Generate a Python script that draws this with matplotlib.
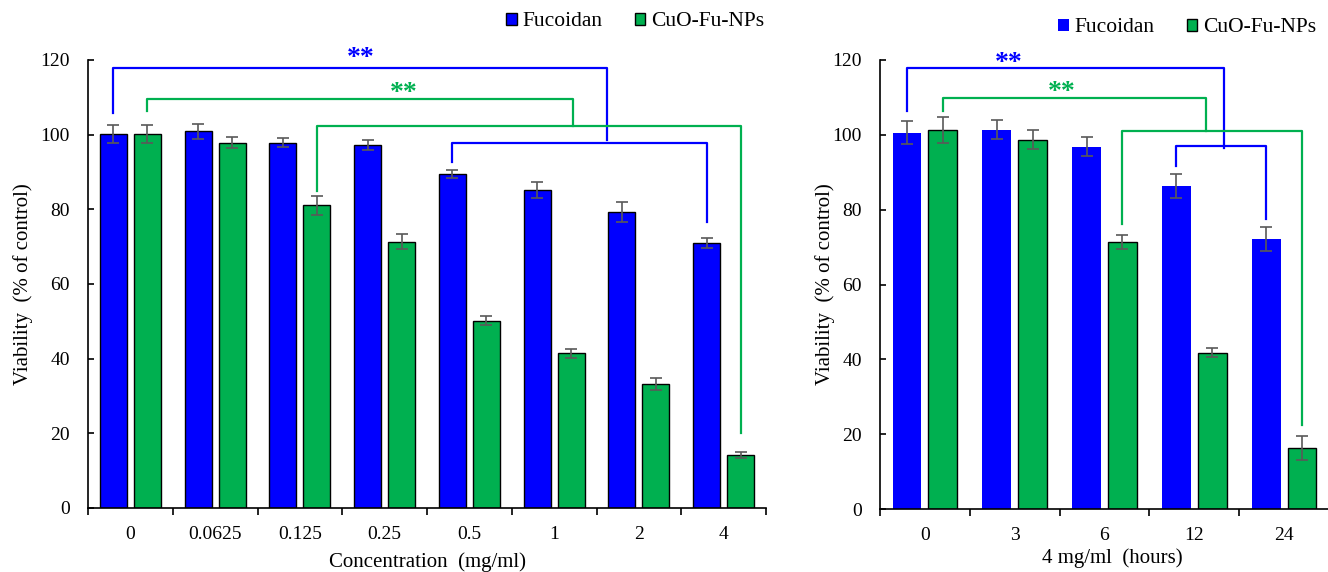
import numpy as np
import matplotlib
matplotlib.use("Agg")
import matplotlib.pyplot as plt
from matplotlib.patches import Patch

plt.rcParams['font.family'] = ['Liberation Serif', 'DejaVu Serif']

# data
conc_labels = ['0', '0.0625', '0.125', '0.25', '0.5', '1', '2', '4']
fuco_conc = [100.2, 100.9, 97.9, 97.2, 89.4, 85.2, 79.3, 70.9]
fuco_conc_err = [2.5, 2.0, 1.1, 1.4, 1.1, 2.2, 2.6, 1.3]
cuo_conc = [100.2, 97.9, 81.1, 71.3, 50.1, 41.4, 33.2, 14.2]
cuo_conc_err = [2.5, 1.5, 2.6, 2.0, 1.2, 1.3, 1.5, 0.7]

time_labels = ['0', '3', '6', '12', '24']
fuco_time = [100.6, 101.4, 96.8, 86.3, 72.2]
fuco_time_err = [3.0, 2.5, 2.5, 3.3, 3.3]
cuo_time = [101.2, 98.7, 71.3, 41.7, 16.4]
cuo_time_err = [3.5, 2.5, 1.8, 1.2, 3.2]

BLUE = '#0000FF'
GREEN = '#00B050'
ERR = '#595959'
OFF = 0.2
W = 0.32

# significance brackets: (colour, left end, right end, top, left drop, right drop)
# ends are (group, series) of a bar, or a plain x value for the connector
conc_brackets = [
    (BLUE, (0, 0), 5.62, 117.8, 105.7, 98.7),
    (GREEN, (0, 1), 5.22, 109.5, 106.3, 102.4),
    (GREEN, (2, 1), (7, 1), 102.4, 85.0, 20.0),
    (BLUE, (4, 0), (7, 0), 97.7, 92.8, 76.7),
]
time_brackets = [
    (BLUE, (0, 0), 3.33, 117.8, 106.4, 96.6),
    (GREEN, (0, 1), 3.13, 109.8, 106.4, 101.0),
    (GREEN, (2, 1), (4, 1), 100.9, 76.3, 22.5),
    (BLUE, (3, 0), (4, 0), 96.9, 91.7, 77.4),
]
conc_stars = [(BLUE, 2.72, 120.3), (GREEN, 3.22, 111.1)]
time_stars = [(BLUE, 0.93, 119.1), (GREEN, 1.52, 111.4)]


def bar_x(e):
    if isinstance(e, tuple):
        return e[0] + (-OFF if e[1] == 0 else OFF)
    return e


def draw_panel(ax, labels, fuco, fuco_err, cuo, cuo_err, brackets, stars,
               xlabel, blue_edge):
    n = len(labels)
    x = np.arange(n)
    ax.bar(x - OFF, fuco, W, color=BLUE,
           edgecolor='black' if blue_edge else BLUE,
           linewidth=1.0 if blue_edge else 0, zorder=2)
    ax.bar(x + OFF, cuo, W, color=GREEN, edgecolor='black', linewidth=1.0,
           zorder=2)
    ax.errorbar(x - OFF, fuco, yerr=fuco_err, fmt='none', ecolor=ERR,
                elinewidth=1.2, capsize=4, capthick=1.2, zorder=3)
    ax.errorbar(x + OFF, cuo, yerr=cuo_err, fmt='none', ecolor=ERR,
                elinewidth=1.2, capsize=4, capthick=1.2, zorder=3)

    for col, left, right, top, yl, yr in brackets:
        xl, xr = bar_x(left), bar_x(right)
        ax.plot([xl, xl, xr, xr], [yl, top, top, yr], color=col, lw=1.6,
                clip_on=False, zorder=4)
    for col, sx, sy in stars:
        ax.text(sx, sy, '**', color=col, ha='center', va='center',
                fontsize=20, fontweight='bold', clip_on=False)

    ax.set_xlim(-0.5, n - 0.5)
    ax.set_ylim(0, 120)
    ax.set_yticks(range(0, 121, 20))
    ax.set_xticks(np.arange(n + 1) - 0.5)
    ax.set_xticklabels([])
    ax.set_xticks(x, minor=True)
    ax.set_xticklabels(labels, minor=True)
    ax.tick_params(axis='x', which='major', direction='out', length=5,
                   width=1.2)
    ax.tick_params(axis='x', which='minor', length=0, pad=13, labelsize=14)
    ax.tick_params(axis='y', direction='in', length=4, width=1.2, pad=13,
                   labelsize=14)
    for s in ['top', 'right']:
        ax.spines[s].set_visible(False)
    for s in ['left', 'bottom']:
        ax.spines[s].set_linewidth(1.2)
    ax.set_ylabel('Viability  (% of control)', fontsize=15)
    ax.set_xlabel(xlabel, fontsize=15)
    ax.yaxis.label.set_va('center')
    ax.xaxis.label.set_va('center')


fig = plt.figure(figsize=(13.28, 5.72), dpi=100)
ax1 = fig.add_axes([88 / 1328, 64 / 572, 678 / 1328, 448 / 572])
ax2 = fig.add_axes([880 / 1328, 63 / 572, 449 / 1328, 449 / 572])

draw_panel(ax1, conc_labels, fuco_conc, fuco_conc_err, cuo_conc,
           cuo_conc_err, conc_brackets, conc_stars,
           'Concentration  (mg/ml)', True)
draw_panel(ax2, time_labels, fuco_time, fuco_time_err, cuo_time,
           cuo_time_err, time_brackets, time_stars,
           '4 mg/ml  (hours)', False)

ax1.yaxis.set_label_coords(-0.096, 0.5)
ax1.xaxis.set_label_coords(0.50, -0.12)
ax2.yaxis.set_label_coords(-0.122, 0.5)
ax2.xaxis.set_label_coords(0.517, -0.11)

h1 = [Patch(facecolor=BLUE, edgecolor='black', linewidth=1.0),
      Patch(facecolor=GREEN, edgecolor='black', linewidth=1.0)]
h2 = [Patch(facecolor=BLUE, edgecolor=BLUE, linewidth=0),
      Patch(facecolor=GREEN, edgecolor='black', linewidth=1.0)]
for handles, cx, cy in [(h1, 635, 22), (h2, 1187, 28)]:
    fig.legend(handles, ['Fucoidan', 'CuO-Fu-NPs'], loc='center',
               bbox_to_anchor=(cx / 1328, 1 - cy / 572), ncol=2,
               frameon=False, fontsize=15.5, handlelength=0.5,
               handleheight=0.5, handletextpad=0.25, columnspacing=1.5,
               borderpad=0.2)

fig.savefig('out.png', dpi=100)
